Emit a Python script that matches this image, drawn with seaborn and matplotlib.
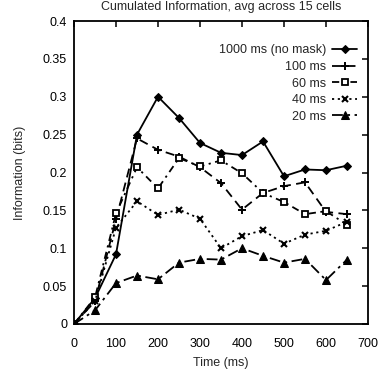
import matplotlib
matplotlib.use("Agg")
import matplotlib.pyplot as plt
import seaborn as sns
import numpy as np

# Time after stimulus onset (ms)
time_ms = [0, 50, 100, 150, 200, 250, 300, 350, 400, 450, 500, 550, 600, 650]

# Cumulated information (bits), averaged across 15 cells
info_1000 = [0, 0.034, 0.092, 0.250, 0.300, 0.272, 0.239, 0.226, 0.223, 0.241, 0.195, 0.204, 0.203, 0.209]
info_100 = [0, 0.030, 0.138, 0.245, 0.230, 0.221, 0.207, 0.186, 0.151, 0.173, 0.182, 0.187, 0.148, 0.145]
info_60 = [0, 0.035, 0.146, 0.207, 0.179, 0.219, 0.208, 0.216, 0.199, 0.173, 0.161, 0.145, 0.149, 0.131]
info_40 = [0, 0.030, 0.127, 0.162, 0.144, 0.151, 0.139, 0.100, 0.116, 0.124, 0.106, 0.118, 0.123, 0.135]
info_20 = [0, 0.018, 0.054, 0.064, 0.059, 0.081, 0.086, 0.085, 0.100, 0.090, 0.081, 0.086, 0.058, 0.085]

labels = ["1000 ms (no mask)", "100 ms", "60 ms", "40 ms", "20 ms"]
x_ticks = [0, 100, 200, 300, 400, 500, 600, 700]
y_ticks = [0, 0.05, 0.1, 0.15, 0.2, 0.25, 0.3, 0.35, 0.4]
y_ticklabels = ["0", "0.05", "0.1", "0.15", "0.2", "0.25", "0.3", "0.35", "0.4"]

sns.set_style("white")
plt.rcParams["font.family"] = ["Liberation Sans", "DejaVu Sans"]
plt.rcParams["font.size"] = 9

fig = plt.figure(figsize=(3.79, 3.69), dpi=100)
ax = fig.add_axes([74 / 379, 45 / 369, 294 / 379, 303 / 369])

series = [info_1000, info_100, info_60, info_40, info_20]
styles = [
    dict(marker="D", markersize=4.5, markerfacecolor="black", linestyle="-"),
    dict(marker="+", markersize=6, markeredgewidth=1.4, linestyle=(0, (5, 3))),
    dict(marker="s", markersize=5, markerfacecolor="white", markeredgewidth=1.3,
         linestyle=(0, (4, 2.5, 1.2, 2.5))),
    dict(marker="x", markersize=5, markeredgewidth=1.5, linestyle=(0, (1.2, 2))),
    dict(marker="^", markersize=5.5, markerfacecolor="black", linestyle=(0, (6, 2.5, 1.5, 2.5))),
]

for vals, lab, st in zip(series, labels, styles):
    sns.lineplot(x=time_ms, y=vals, ax=ax, color="black", linewidth=1.3,
                 markeredgecolor="black", label=lab, **st)

ax.set_xlim(0, 700)
ax.set_ylim(0, 0.4)
ax.set_xticks(x_ticks)
ax.set_yticks(y_ticks)
ax.set_yticklabels(y_ticklabels)
ax.tick_params(direction="in", top=True, right=True, length=4, width=1.1,
               labelsize=9, colors="black")
ax.tick_params(axis="x", pad=10)
ax.tick_params(axis="y", pad=5)
for sp in ax.spines.values():
    sp.set_visible(True)
    sp.set_color("black")
    sp.set_linewidth(1.3)

ax.set_xlabel("Time (ms)", fontsize=9, labelpad=5)
ax.set_ylabel("Information (bits)", fontsize=9, labelpad=12)
ax.set_title("Cumulated Information, avg across 15 cells", fontsize=9, pad=8)

leg = ax.legend(loc="upper right", bbox_to_anchor=(0.963, 0.923), frameon=False,
                markerfirst=False, fontsize=9, handlelength=2.0, handletextpad=0.5,
                labelspacing=0.37, borderpad=0, borderaxespad=0, numpoints=1)

fig.savefig("out.png", dpi=100, facecolor="white")
